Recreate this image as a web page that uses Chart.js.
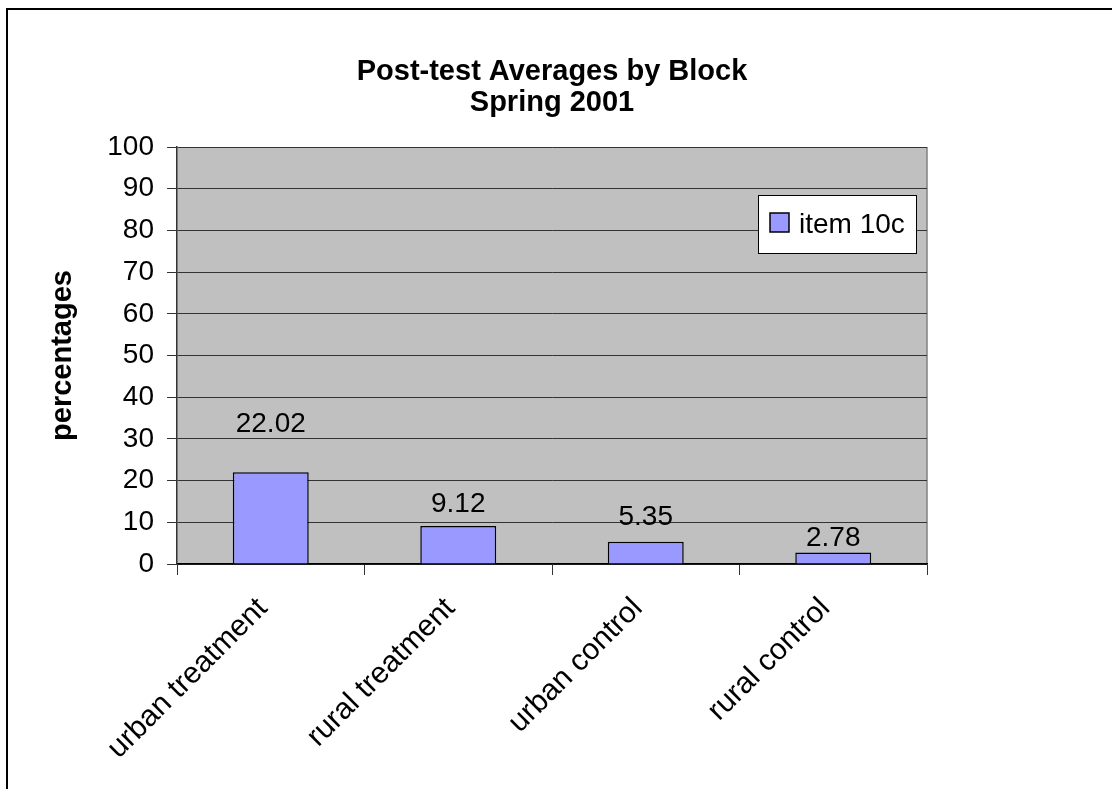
<!DOCTYPE html>
<html>
<head>
<meta charset="utf-8">
<title>Post-test Averages by Block</title>
<script src="https://cdn.jsdelivr.net/npm/chart.js@4.4.1/dist/chart.umd.min.js"></script>
<style>
  html, body { margin: 0; padding: 0; background: #fff; }
  #wrap { width: 1112px; height: 789px; }
</style>
</head>
<body>
<div id="wrap"><canvas id="chart" width="1112" height="789"></canvas></div>
<script>
"use strict";

const categories = ["urban treatment", "rural treatment", "urban control", "rural control"];
const item10c = [22.02, 9.12, 5.35, 2.78];
const yTicks = [0, 10, 20, 30, 40, 50, 60, 70, 80, 90, 100];
const seriesName = "item 10c";
const titleLines = ["Post-test Averages by Block", "Spring 2001"];
const yTitle = "percentages";

const FONT = "'Liberation Sans', Arial, sans-serif";
const BAR = "#9999ff";
// distance from bar top to label baseline, as placed in the original
const labelLift = [40, 14, 17, 6];

const frame = {
  id: "frame",
  beforeDraw(chart) {
    const { ctx, chartArea: a } = chart;
    ctx.save();
    ctx.fillStyle = "#fff";
    ctx.fillRect(0, 0, chart.width, chart.height);
    ctx.strokeStyle = "#000";
    ctx.lineWidth = 2;
    ctx.strokeRect(7, 9, chart.width + 20, chart.height + 20);
    ctx.fillStyle = "#c0c0c0";
    ctx.fillRect(a.left, a.top, a.right - a.left, a.bottom - a.top);
    ctx.strokeStyle = "#808080";
    ctx.lineWidth = 1.5;
    ctx.beginPath();
    ctx.moveTo(a.right, a.top);
    ctx.lineTo(a.right, a.bottom);
    ctx.stroke();
    ctx.restore();
  },
};

const valueLabels = {
  id: "valueLabels",
  afterDatasetsDraw(chart) {
    const ctx = chart.ctx;
    const meta = chart.getDatasetMeta(0);
    ctx.save();
    ctx.font = `28px ${FONT}`;
    ctx.fillStyle = "#000";
    ctx.textAlign = "center";
    ctx.textBaseline = "alphabetic";
    meta.data.forEach((bar, i) => {
      ctx.fillText(item10c[i].toFixed(2), bar.x, bar.y - labelLift[i]);
    });
    ctx.restore();
  },
};

const boxLegend = {
  id: "boxLegend",
  afterDraw(chart) {
    const { ctx, chartArea: a } = chart;
    const ds = chart.data.datasets[0];
    const x = a.right - 169, y = 195, w = 158, h = 58;
    ctx.save();
    ctx.fillStyle = "#fff";
    ctx.fillRect(x, y, w, h);
    ctx.strokeStyle = "#000";
    ctx.lineWidth = 1;
    ctx.strokeRect(x + 0.5, y + 0.5, w, h);
    ctx.fillStyle = ds.backgroundColor;
    ctx.fillRect(x + 12, y + 18, 19, 19);
    ctx.lineWidth = 1.5;
    ctx.strokeRect(x + 12, y + 18, 19, 19);
    ctx.fillStyle = "#000";
    ctx.font = `28px ${FONT}`;
    ctx.textBaseline = "alphabetic";
    ctx.fillText(ds.label, x + 41, y + 38);
    ctx.restore();
  },
};

new Chart(document.getElementById("chart"), {
  type: "bar",
  data: {
    labels: categories,
    datasets: [
      {
        label: seriesName,
        data: item10c,
        backgroundColor: BAR,
        borderColor: "#000",
        borderWidth: 1.5,
        barPercentage: 0.405,
        categoryPercentage: 1,
      },
    ],
  },
  options: {
    responsive: false,
    animation: false,
    layout: { padding: { top: 0, left: 0, right: 185, bottom: 0 } },
    plugins: {
      legend: { display: false },
      tooltip: { enabled: false },
      title: {
        display: true,
        fullSize: false,
        text: titleLines,
        color: "#000",
        font: { family: FONT, size: 29, weight: "bold", lineHeight: 1.07 },
        padding: { top: 56, bottom: 29 },
      },
    },
    scales: {
      x: {
        grid: {
          display: true,
          offset: true,
          drawOnChartArea: false,
          drawTicks: true,
          tickLength: 11,
          color: "#333",
        },
        border: { display: true, color: "#000", width: 1.5 },
        ticks: {
          color: "#000",
          font: { family: FONT, size: 30 },
          minRotation: 45,
          maxRotation: 45,
          autoSkip: false,
          padding: 16,
          labelOffset: -8,
        },
        afterFit: (s) => { s.height = 225; },
      },
      y: {
        min: 0,
        max: 100,
        grid: { color: "#333", tickLength: 10, drawTicks: true },
        border: { display: true, color: "#333", width: 1.5 },
        ticks: {
          color: "#000",
          font: { family: FONT, size: 28 },
          padding: 13,
        },
        afterBuildTicks: (s) => { s.ticks = yTicks.map((v) => ({ value: v })); },
        title: {
          display: true,
          text: yTitle,
          color: "#000",
          font: { family: FONT, size: 29, weight: "bold" },
          padding: { top: 46, bottom: 0 },
        },
        afterFit: (s) => { s.width = 177; },
      },
    },
  },
  plugins: [frame, valueLabels, boxLegend],
});
</script>
</body>
</html>
